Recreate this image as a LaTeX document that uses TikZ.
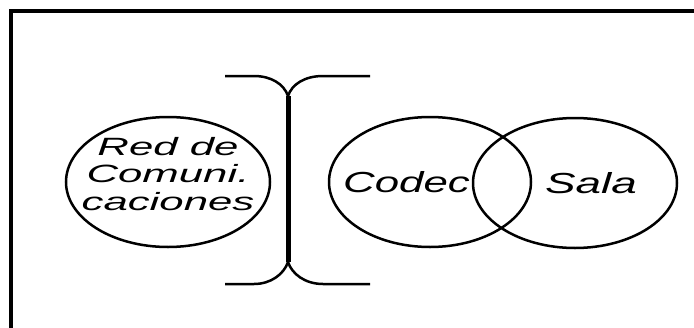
\documentclass[tikz,border=0pt]{standalone}
\usepackage{fontspec}
\setmainfont{Liberation Sans}
\usetikzlibrary{shapes.geometric}
\tikzset{
  ring/.style={ellipse, draw=black, line width=2.5pt, minimum width=204pt,
               minimum height=130pt, inner sep=0pt},
  lbl/.style={font=\itshape\fontsize{25}{27.5}\selectfont, align=center, inner sep=0pt},
  lblb/.style={font=\itshape\fontsize{29}{32}\selectfont, inner sep=0pt},
  wire/.style={line width=2.5pt, line cap=butt},
}

\begin{document}
\begin{tikzpicture}[x=1pt, y=-1pt]
\useasboundingbox (0,0) rectangle (694,327);
% frame, open to the right and bottom
\draw[line width=4pt] (696,10.5) -- (11,10.5) -- (11,329);
% the three rings
\node[ring] (redring) at (168,182) {};
\node[ring, minimum width=202pt] (codecring) at (430,182) {};
\node[ring] (salaring) at (575,183) {};
\node[lbl, xscale=1.75] (red) at (168,174) {Red de\\Comuni.\\caciones};
\node[lblb, xscale=1.51] (codec) at (406.5,182.5) {Codec};
\node[lblb, xscale=1.58] (sala) at (591,183) {Sala};
% bracket between network and codec
\coordinate (jt) at (288,96);
\coordinate (jb) at (288,262);
\draw[wire] (225,76) -- (254,76) .. controls (271,76) and (284,84) .. (jt)
  .. controls (292,84) and (305,76) .. (323,76) -- (370,76);
\draw[wire] (225,284) -- (254,284) .. controls (271,284) and (284,274) .. (jb)
  .. controls (292,274) and (305,284) .. (323,284) -- (370,284);
\draw[line width=5pt] (jt) -- (jb);
\end{tikzpicture}
\end{document}
